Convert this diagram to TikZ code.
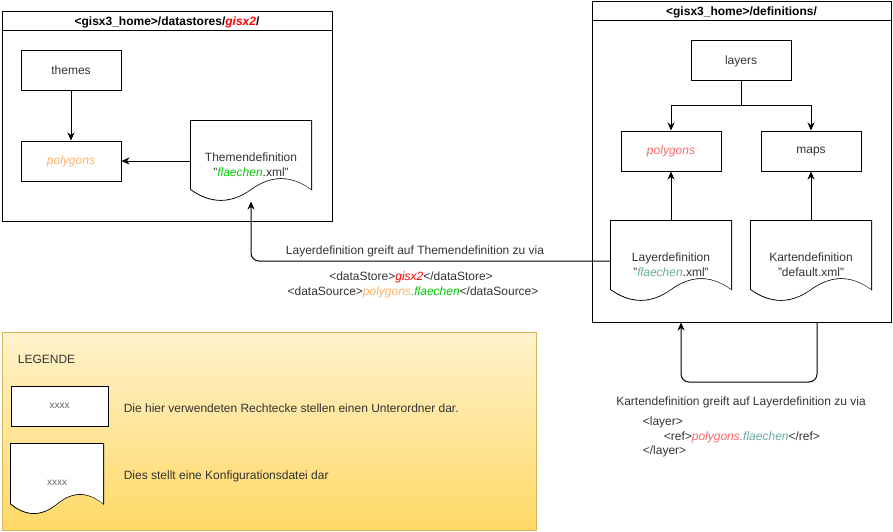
\documentclass[tikz,border=0pt]{standalone}
\usepackage{fontspec}
\setmainfont{Liberation Sans}
\usetikzlibrary{arrows.meta,calc}

\definecolor{txtgray}{HTML}{333333}
\definecolor{gisred}{HTML}{FF0000}
\definecolor{polyorange}{HTML}{FFB366}
\definecolor{flgreen}{HTML}{00CC00}
\definecolor{polyred}{HTML}{FF6666}
\definecolor{flteal}{HTML}{67AB9F}
\definecolor{legtop}{HTML}{FFF2CC}
\definecolor{legbottom}{HTML}{FFD966}
\definecolor{legborder}{HTML}{D6B656}

% wavy bottom of a configuration file
\newcommand{\docoutline}[1]{let \p1=(#1.north west), \p2=(#1.south east) in
  (\p1) -- (\x2,\y1) -- (\x2,{\y1+0.85*(\y2-\y1)})
  .. controls ({\x1+0.8333*(\x2-\x1)},{\y1+0.67*(\y2-\y1)}) and ({\x1+0.6667*(\x2-\x1)},{\y1+0.67*(\y2-\y1)}) .. ({\x1+0.5*(\x2-\x1)},{\y1+0.85*(\y2-\y1)})
  .. controls ({\x1+0.3333*(\x2-\x1)},{\y1+1.03*(\y2-\y1)}) and ({\x1+0.1667*(\x2-\x1)},{\y1+1.03*(\y2-\y1)}) .. (\x1,{\y1+0.85*(\y2-\y1)}) -- cycle}

\tikzstyle{every node}=[font=\fontsize{12}{15}\selectfont, text=txtgray]
\tikzstyle{container}=[draw,shape=rectangle,inner sep=0]
\tikzstyle{headtext}=[font=\fontsize{12}{15}\selectfont\bfseries, text=black]
\tikzstyle{dirbox}=[draw,shape=rectangle,fill=white,minimum width=100,minimum height=40,inner sep=0,text depth=1pt]
\tikzstyle{docfile}=[shape=rectangle,align=center,minimum width=120,minimum height=80,inner sep=0,
  text height=31pt,
  path picture={\fill[white] \docoutline{path picture bounding box};},
  append after command={\pgfextra{\draw \docoutline{\tikzlastnode};}}]
\tikzstyle{small}=[font=\fontsize{10}{12}\selectfont, text=black!60]
\tikzstyle{link}=[-{Stealth[length=8pt,width=7pt,inset=2.5pt]}]

\begin{document}
\begin{tikzpicture}[x=1pt,y=-1pt,line width=1pt]
\useasboundingbox (0,0) rectangle (893,532);

% datastores
\node[container, minimum width=330, minimum height=209] (ds) at (167,116.5) {};
\node[headtext] (ds-title) at (167,22) {<gisx3\_home>/datastores/\textcolor{gisred}{\textit{gisx2}}/};
\draw ([yshift=-19.5]ds.north west) -- ([yshift=-19.5]ds.north east);
\node[dirbox] at ( 71, 71) (ds-themes)   {themes};
\node[dirbox] at ( 71,161) (ds-polygons) {\textcolor{polyorange}{\textit{polygons}}};
\node[docfile] at (251,161) (ds-themdef) {Themendefinition\\"\textcolor{flgreen}{\textit{flaechen}}.xml"};
\draw[link] (ds-themes) -- (ds-polygons);
\draw[link] (ds-themdef) -- (ds-polygons);

% definitions
\node[container, minimum width=299, minimum height=320] (defs) at (741.5,162) {};
\node[headtext] (defs-title) at (741.5,12) {<gisx3\_home>/definitions/};
\draw ([yshift=-19.5]defs.north west) -- ([yshift=-19.5]defs.north east);
\node[dirbox] at (741, 61) (def-layers)   {layers};
\node[dirbox] at (671,151) (def-polygons) {\textcolor{polyred}{\textit{polygons}}};
\node[dirbox] at (811,151) (def-maps)     {maps};
\node[docfile] at (671,261) (def-laydoc)  {Layerdefinition\\"\textcolor{flteal}{\textit{flaechen}}.xml"};
\node[docfile] at (811,261) (def-kartdoc) {Kartendefinition\\"default.xml"};
\draw[link] (def-layers) -- +(0,45) -| (def-polygons);
\draw[link] (def-layers) -- +(0,45) -| (def-maps);
\draw[link] (def-laydoc) -- (def-polygons);
\draw[link] (def-kartdoc) -- (def-maps);

% access between the two folders
\draw[link, rounded corners=8] (def-laydoc.west) -| (ds-themdef.south);
\node at (415,251) (link-text)   {Layerdefinition greift auf Themendefinition zu via};
\node at (411,277) (link-store)  {<dataStore>\textcolor{gisred}{\textit{gisx2}}</dataStore>};
\node at (413,292) (link-source) {<dataSource>\textcolor{polyorange}{\textit{polygons}}\textcolor{flgreen}{\textit{.flaechen}}</dataSource>};

\draw[link, rounded corners=8] ([xshift=75.5]defs.south) -- +(0,59.5) -| ([xshift=-60.5]defs.south);
\node at (741,402) (loop-text) {Kartendefinition greift auf Layerdefinition zu via};
\node[anchor=west] at (639,422) (loop-open)  {<layer>};
\node[anchor=west] at (660,437) (loop-ref)   {<ref>\textcolor{polyred}{\textit{polygons}}\textcolor{flteal}{\textit{.flaechen}}</ref>};
\node[anchor=west] at (639,451) (loop-close) {</layer>};

% legend
\node[draw=legborder, top color=legtop, bottom color=legbottom, shape=rectangle,
      minimum width=534, minimum height=198, inner sep=0] (leg) at (269,431) {};
\node[anchor=west] at (14,359) (leg-title) {LEGENDE};
\node[dirbox, minimum width=97, small] at (59.5,406) (leg-dir) {xxxx};
\node[anchor=west] at (120,408) (leg-dirtext) {Die hier verwendeten Rechtecke stellen einen Unterordner dar.};
\node[docfile, minimum width=92, minimum height=70, small, text height=12pt] at (57,479) (leg-doc) {xxxx};
\node[anchor=west] at (120,476) (leg-doctext) {Dies stellt eine Konfigurationsdatei dar};
\end{tikzpicture}
\end{document}
